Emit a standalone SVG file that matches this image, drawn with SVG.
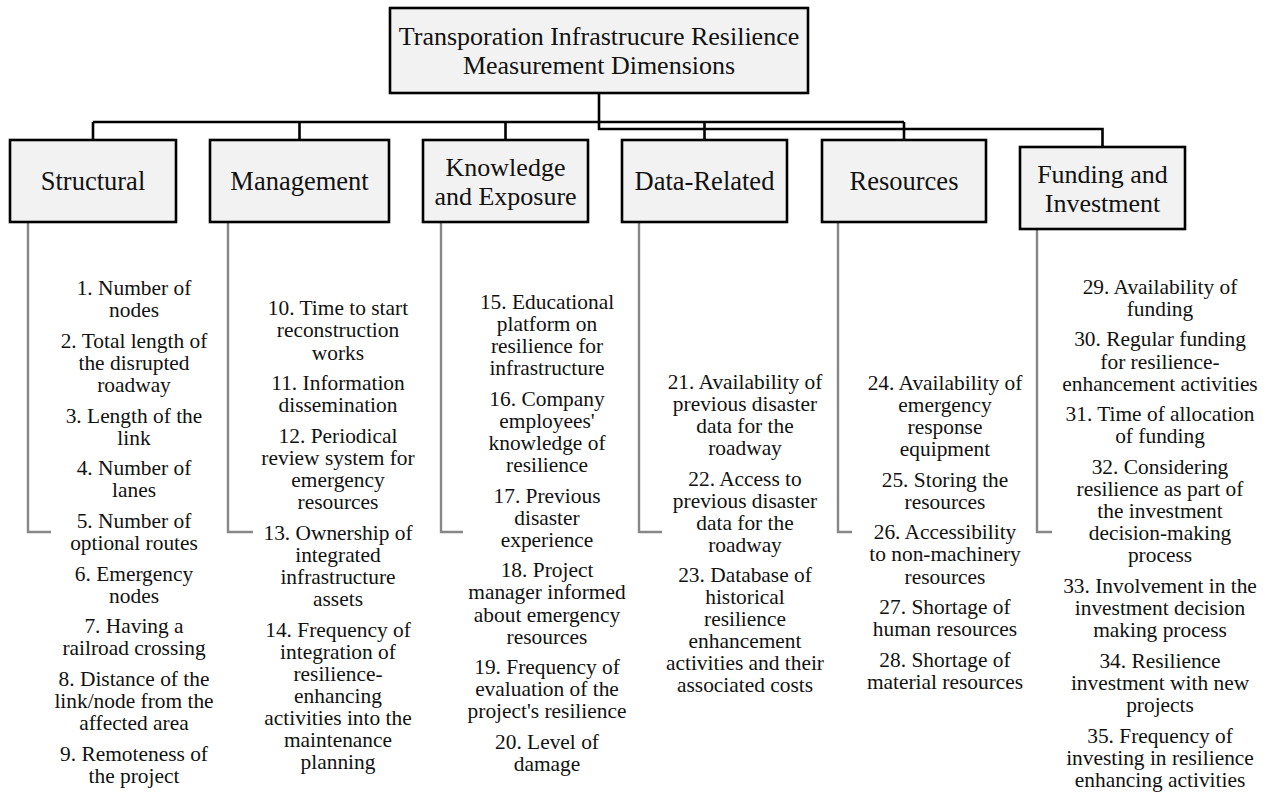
<svg xmlns="http://www.w3.org/2000/svg" width="1270" height="792" viewBox="0 0 1270 792">
<style>
.box{fill:#f2f2f2;stroke:#000;stroke-width:2.6}
.conn{fill:none;stroke:#000;stroke-width:2.6}
.br{fill:none;stroke:#878787;stroke-width:2.4}
.h{font-family:"Liberation Serif","Times New Roman",serif;font-size:26.5px;fill:#111;text-anchor:middle}
.h2{font-family:"Liberation Serif","Times New Roman",serif;font-size:26px;fill:#111;text-anchor:middle}
.t{font-family:"Liberation Serif","Times New Roman",serif;font-size:21.4px;fill:#111;text-anchor:middle}
</style>
<rect width="1270" height="792" fill="#fff"/>
<g id="connectors">
<polyline class="conn" points="599,93 599,129 1102.5,129 1102.5,147"/>
<line class="conn" x1="93" y1="122" x2="904" y2="122"/>
<line class="conn" x1="93" y1="122" x2="93" y2="140"/>
<line class="conn" x1="299.5" y1="122" x2="299.5" y2="140"/>
<line class="conn" x1="505.5" y1="122" x2="505.5" y2="140"/>
<line class="conn" x1="704.5" y1="122" x2="704.5" y2="140"/>
<line class="conn" x1="904" y1="122" x2="904" y2="140"/>
<polyline class="br" points="28,222 28,532 51,532"/>
<polyline class="br" points="228,222 228,532 253,532"/>
<polyline class="br" points="441,222 441,532 463,532"/>
<polyline class="br" points="639,222 639,532 662,532"/>
<polyline class="br" points="838,222 838,532 852,532"/>
<polyline class="br" points="1037,229 1037,532 1052,532"/>
</g>
<g id="root">
<rect class="box" x="390" y="8" width="418" height="85"/>
<text class="h2" x="599" y="45">Transporation Infrastrucure Resilience</text>
<text class="h2" x="599" y="74">Measurement Dimensions</text>
</g>
<g id="structural">
<rect class="box" x="10" y="140" width="166" height="82"/>
<text class="h" x="93" y="190">Structural</text>
</g>
<g id="management">
<rect class="box" x="210" y="140" width="179" height="82"/>
<text class="h" x="299.5" y="190">Management</text>
</g>
<g id="knowledge">
<rect class="box" x="423" y="140" width="165" height="82"/>
<text class="h2" x="505.5" y="175.5">Knowledge</text>
<text class="h2" x="505.5" y="204.5">and Exposure</text>
</g>
<g id="data">
<rect class="box" x="622" y="140" width="165" height="82"/>
<text class="h" x="704.5" y="190">Data-Related</text>
</g>
<g id="resources">
<rect class="box" x="822" y="140" width="164" height="82"/>
<text class="h" x="904" y="190">Resources</text>
</g>
<g id="funding">
<rect class="box" x="1020" y="147" width="165" height="82"/>
<text class="h2" x="1102.5" y="182.5">Funding and</text>
<text class="h2" x="1102.5" y="211.5">Investment</text>
</g>
<g id="structural-items">
<text class="t" x="134" y="295">1. Number of</text>
<text class="t" x="134" y="317.1">nodes</text>
<text class="t" x="134" y="347.7">2. Total length of</text>
<text class="t" x="134" y="369.8">the disrupted</text>
<text class="t" x="134" y="391.9">roadway</text>
<text class="t" x="134" y="422.5">3. Length of the</text>
<text class="t" x="134" y="444.6">link</text>
<text class="t" x="134" y="475.2">4. Number of</text>
<text class="t" x="134" y="497.3">lanes</text>
<text class="t" x="134" y="527.9">5. Number of</text>
<text class="t" x="134" y="550">optional routes</text>
<text class="t" x="134" y="580.6">6. Emergency</text>
<text class="t" x="134" y="602.7">nodes</text>
<text class="t" x="134" y="633.3">7. Having a</text>
<text class="t" x="134" y="655.4">railroad crossing</text>
<text class="t" x="134" y="686">8. Distance of the</text>
<text class="t" x="134" y="708.1">link/node from the</text>
<text class="t" x="134" y="730.2">affected area</text>
<text class="t" x="134" y="760.8">9. Remoteness of</text>
<text class="t" x="134" y="782.9">the project</text>
</g>
<g id="management-items">
<text class="t" x="338" y="315.3">10. Time to start</text>
<text class="t" x="338" y="337.4">reconstruction</text>
<text class="t" x="338" y="359.5">works</text>
<text class="t" x="338" y="390.1">11. Information</text>
<text class="t" x="338" y="412.2">dissemination</text>
<text class="t" x="338" y="442.8">12. Periodical</text>
<text class="t" x="338" y="464.9">review system for</text>
<text class="t" x="338" y="487">emergency</text>
<text class="t" x="338" y="509.1">resources</text>
<text class="t" x="338" y="539.7">13. Ownership of</text>
<text class="t" x="338" y="561.8">integrated</text>
<text class="t" x="338" y="583.9">infrastructure</text>
<text class="t" x="338" y="606">assets</text>
<text class="t" x="338" y="636.6">14. Frequency of</text>
<text class="t" x="338" y="658.7">integration of</text>
<text class="t" x="338" y="680.8">resilience-</text>
<text class="t" x="338" y="702.9">enhancing</text>
<text class="t" x="338" y="725">activities into the</text>
<text class="t" x="338" y="747.1">maintenance</text>
<text class="t" x="338" y="769.2">planning</text>
</g>
<g id="knowledge-items">
<text class="t" x="547" y="308.7">15. Educational</text>
<text class="t" x="547" y="330.8">platform on</text>
<text class="t" x="547" y="352.9">resilience for</text>
<text class="t" x="547" y="375">infrastructure</text>
<text class="t" x="547" y="405.6">16. Company</text>
<text class="t" x="547" y="427.7">employees'</text>
<text class="t" x="547" y="449.8">knowledge of</text>
<text class="t" x="547" y="471.9">resilience</text>
<text class="t" x="547" y="502.5">17. Previous</text>
<text class="t" x="547" y="524.6">disaster</text>
<text class="t" x="547" y="546.7">experience</text>
<text class="t" x="547" y="577.3">18. Project</text>
<text class="t" x="547" y="599.4">manager informed</text>
<text class="t" x="547" y="621.5">about emergency</text>
<text class="t" x="547" y="643.6">resources</text>
<text class="t" x="547" y="674.2">19. Frequency of</text>
<text class="t" x="547" y="696.3">evaluation of the</text>
<text class="t" x="547" y="718.4">project's resilience</text>
<text class="t" x="547" y="749">20. Level of</text>
<text class="t" x="547" y="771.1">damage</text>
</g>
<g id="data-items">
<text class="t" x="745" y="388.7">21. Availability of</text>
<text class="t" x="745" y="410.8">previous disaster</text>
<text class="t" x="745" y="432.9">data for the</text>
<text class="t" x="745" y="455">roadway</text>
<text class="t" x="745" y="485.6">22. Access to</text>
<text class="t" x="745" y="507.7">previous disaster</text>
<text class="t" x="745" y="529.8">data for the</text>
<text class="t" x="745" y="551.9">roadway</text>
<text class="t" x="745" y="581.5">23. Database of</text>
<text class="t" x="745" y="603.6">historical</text>
<text class="t" x="745" y="625.7">resilience</text>
<text class="t" x="745" y="647.8">enhancement</text>
<text class="t" x="745" y="669.9">activities and their</text>
<text class="t" x="745" y="692">associated costs</text>
</g>
<g id="resources-items">
<text class="t" x="945" y="389.7">24. Availability of</text>
<text class="t" x="945" y="411.8">emergency</text>
<text class="t" x="945" y="433.9">response</text>
<text class="t" x="945" y="456">equipment</text>
<text class="t" x="945" y="486.6">25. Storing the</text>
<text class="t" x="945" y="508.7">resources</text>
<text class="t" x="945" y="539.3">26. Accessibility</text>
<text class="t" x="945" y="561.4">to non-machinery</text>
<text class="t" x="945" y="583.5">resources</text>
<text class="t" x="945" y="614.1">27. Shortage of</text>
<text class="t" x="945" y="636.2">human resources</text>
<text class="t" x="945" y="666.8">28. Shortage of</text>
<text class="t" x="945" y="688.9">material resources</text>
</g>
<g id="funding-items">
<text class="t" x="1160" y="293.7">29. Availability of</text>
<text class="t" x="1160" y="315.8">funding</text>
<text class="t" x="1160" y="346.4">30. Regular funding</text>
<text class="t" x="1160" y="368.5">for resilience-</text>
<text class="t" x="1160" y="390.6">enhancement activities</text>
<text class="t" x="1160" y="421.2">31. Time of allocation</text>
<text class="t" x="1160" y="443.3">of funding</text>
<text class="t" x="1160" y="473.9">32. Considering</text>
<text class="t" x="1160" y="496">resilience as part of</text>
<text class="t" x="1160" y="518.1">the investment</text>
<text class="t" x="1160" y="540.2">decision-making</text>
<text class="t" x="1160" y="562.3">process</text>
<text class="t" x="1160" y="592.9">33. Involvement in the</text>
<text class="t" x="1160" y="615">investment decision</text>
<text class="t" x="1160" y="637.1">making process</text>
<text class="t" x="1160" y="667.7">34. Resilience</text>
<text class="t" x="1160" y="689.8">investment with new</text>
<text class="t" x="1160" y="711.9">projects</text>
<text class="t" x="1160" y="742.5">35. Frequency of</text>
<text class="t" x="1160" y="764.6">investing in resilience</text>
<text class="t" x="1160" y="786.7">enhancing activities</text>
</g>
</svg>
